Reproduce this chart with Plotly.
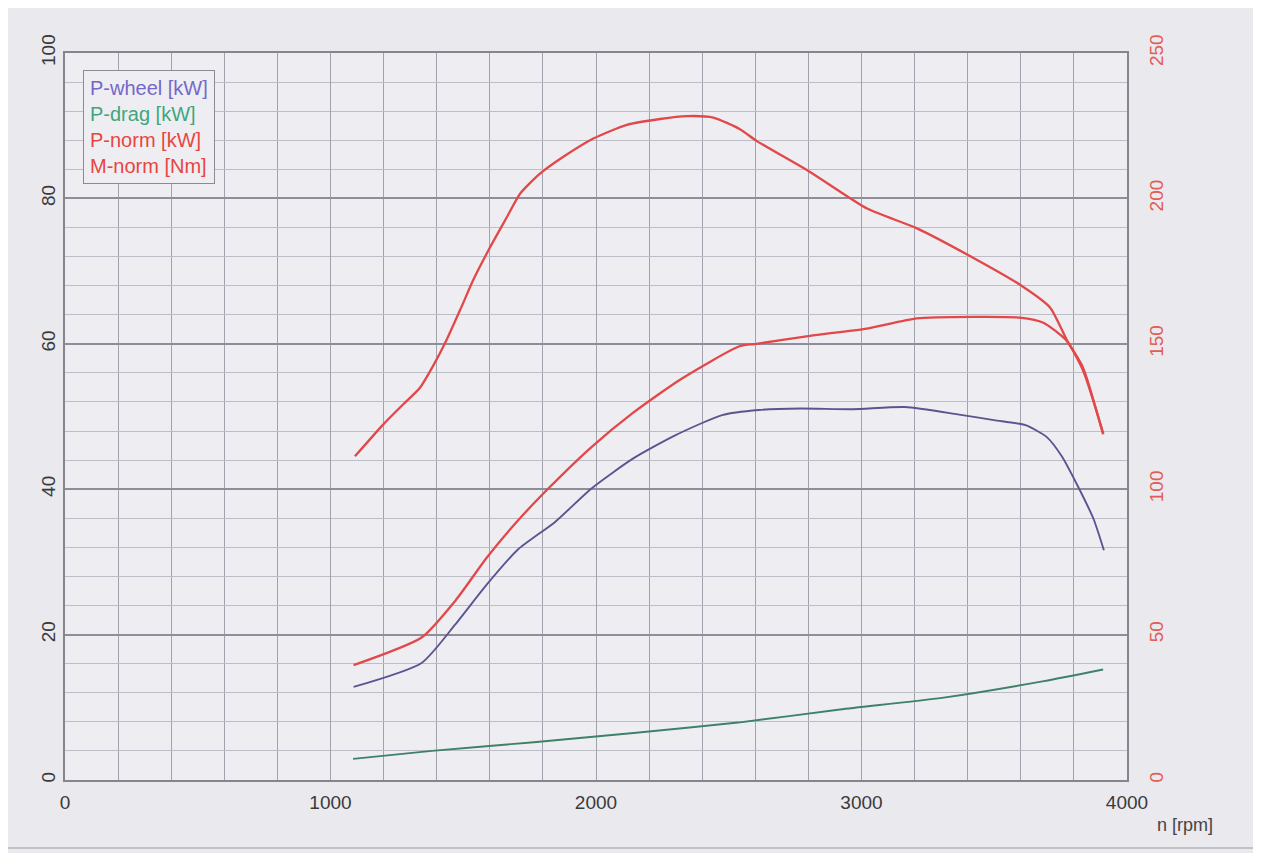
import plotly.graph_objects as go

# ---- data ----
rpm_wheel = [1087, 1343, 1470, 1589, 1706, 1846, 1983, 2139, 2298, 2475, 2614, 2771,
             2968, 3164, 3362, 3499, 3618, 3697, 3755, 3815, 3874, 3913]
p_wheel = [12.8, 16.1, 21.4, 26.9, 31.7, 35.5, 40.1, 44.2, 47.4, 50.2, 50.9, 51.1,
           51.0, 51.3, 50.3, 49.5, 48.8, 47.2, 44.5, 40.4, 35.9, 31.6]

rpm_drag = [1085, 1382, 1766, 2151, 2535, 2919, 3303, 3687, 3910]
p_drag = [2.9, 4.0, 5.2, 6.5, 7.9, 9.7, 11.3, 13.6, 15.2]

rpm_pnorm = [1087, 1343, 1471, 1589, 1706, 1826, 1983, 2139, 2318, 2542, 2605, 2806,
             3020, 3208, 3421, 3597, 3685, 3773, 3835, 3911]
p_norm = [15.8, 19.6, 24.7, 30.6, 35.7, 40.3, 45.8, 50.5, 55.1, 59.7, 60.0, 61.1,
          62.1, 63.5, 63.7, 63.6, 62.9, 60.4, 56.3, 47.6]

rpm_mnorm = [1092, 1199, 1274, 1337, 1387, 1438, 1490, 1538, 1601, 1664, 1714, 1789,
             1877, 1990, 2116, 2241, 2342, 2442, 2542, 2606, 2806, 3021, 3209, 3420,
             3597, 3710, 3774, 3834, 3910]
m_norm = [111.3, 122.3, 129.2, 134.9, 142.5, 151.5, 162.0, 172.0, 183.2, 193.5, 201.6, 208.5,
          214.3, 220.6, 225.3, 227.3, 228.3, 227.8, 223.8, 219.7, 209.1, 196.5, 189.7, 179.6,
          170.3, 162.5, 151.2, 141.9, 118.9]

x_ticks = [0, 1000, 2000, 3000, 4000]
y_left_ticks = [0, 20, 40, 60, 80, 100]
y_right_ticks = [0, 50, 100, 150, 200, 250]

legend_names = ["P-wheel [kW]", "P-drag [kW]", "P-norm [kW]", "M-norm [Nm]"]
legend_colors = ["#7468c8", "#3fa67e", "#e8453f", "#e8453f"]

line_wheel = "#5a5590"
line_drag = "#3f8068"
line_red = "#e2474a"

FONT = "Arial, Liberation Sans, sans-serif"

fig = go.Figure()
fig.add_trace(go.Scatter(x=rpm_wheel, y=p_wheel, mode="lines", name=legend_names[0],
                         line=dict(color=line_wheel, width=1.9, shape="spline", smoothing=0.6),
                         yaxis="y"))
fig.add_trace(go.Scatter(x=rpm_drag, y=p_drag, mode="lines", name=legend_names[1],
                         line=dict(color=line_drag, width=1.9, shape="spline", smoothing=0.6),
                         yaxis="y"))
fig.add_trace(go.Scatter(x=rpm_pnorm, y=p_norm, mode="lines", name=legend_names[2],
                         line=dict(color=line_red, width=2.3, shape="spline", smoothing=0.6),
                         yaxis="y"))
fig.add_trace(go.Scatter(x=rpm_mnorm, y=m_norm, mode="lines", name=legend_names[3],
                         line=dict(color=line_red, width=2.3, shape="spline", smoothing=0.6),
                         yaxis="y2"))

legend_text = "<br>".join(
    f'<span style="color:{c}">{n}</span>' for n, c in zip(legend_names, legend_colors))

fig.update_layout(
    width=1253, height=845,
    margin=dict(l=57, r=134, t=45, b=73),
    paper_bgcolor="#e9e9ee",
    plot_bgcolor="#eeeef2",
    showlegend=False,
    font=dict(family=FONT, color="#333333"),
    xaxis=dict(
        range=[0, 4000], tickvals=x_ticks, ticktext=[str(v) for v in x_ticks],
        showgrid=True, gridcolor="#a2a2ae", gridwidth=1,
        minor=dict(dtick=200, showgrid=True, gridcolor="#a2a2ae", gridwidth=1),
        showline=True, linecolor="#85858f", linewidth=1.5, mirror=True,
        zeroline=False, ticks="", ticklabelstandoff=4,
        tickfont=dict(size=19, color="#3a3a3a"),
    ),
    yaxis=dict(
        range=[0, 100], tickvals=y_left_ticks,
        showgrid=True, gridcolor="#8e8e9a", gridwidth=1.5,
        minor=dict(dtick=4, showgrid=True, gridcolor="#bdbdc8", gridwidth=1),
        showline=True, linecolor="#85858f", linewidth=1.5, mirror=True,
        zeroline=False, ticks="", tickangle=-90, ticklabelstandoff=1,
        tickfont=dict(size=19, color="#3a3a3a"),
    ),
    yaxis2=dict(
        range=[0, 250], tickvals=y_right_ticks, overlaying="y", side="right",
        showgrid=False, zeroline=False, showline=False, ticks="",
        tickangle=-90, ticklabelstandoff=16,
        tickfont=dict(size=19, color="#e35c55"),
    ),
    annotations=[
        dict(xref="paper", yref="paper", x=0.017, y=0.977, xanchor="left", yanchor="top",
             text=legend_text, showarrow=False, align="left",
             font=dict(size=20, family=FONT),
             bordercolor="#8a8a96", borderwidth=1, borderpad=6, bgcolor="#eeeef2"),
        dict(xref="paper", yref="paper", x=1.026, y=-0.045, xanchor="left", yanchor="top",
             text="n [rpm]", showarrow=False, font=dict(size=18, color="#444444")),
    ],
    shapes=[
        dict(type="line", xref="paper", yref="paper", x0=-0.06, x1=1.12, y0=-0.0935, y1=-0.0935,
             line=dict(color="#b4b4bc", width=1.5)),
    ],
)

fig.write_html("out.html")
